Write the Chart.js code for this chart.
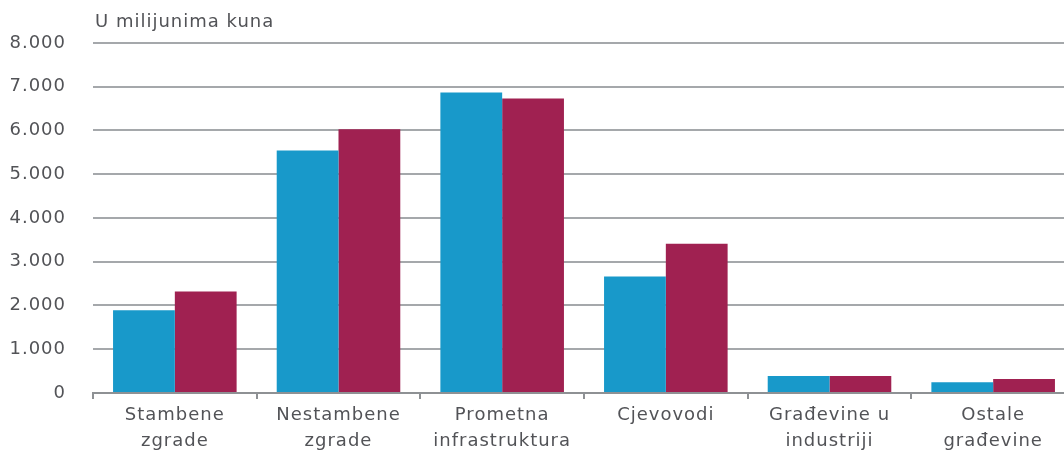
<!DOCTYPE html>
<html>
<head>
<meta charset="utf-8">
<script src="https://cdn.jsdelivr.net/npm/chart.js@4"></script>
<style>
html,body{margin:0;padding:0;background:#fff;overflow:hidden;}
#wrap{width:1064px;height:456px;position:relative;overflow:hidden;}
</style>
</head>
<body>
<div id="wrap"><canvas id="c" width="1080" height="461"></canvas></div>
<script>
const categories = [
  ["Stambene", "zgrade"],
  ["Nestambene", "zgrade"],
  ["Prometna", "infrastruktura"],
  ["Cjevovodi"],
  ["Građevine u", "industriji"],
  ["Ostale", "građevine"]
];
const seriesBlue = [1890, 5540, 6870, 2660, 385, 245];
const seriesRed = [2320, 6030, 6730, 3410, 385, 315];
const yTicks = [0, 1000, 2000, 3000, 4000, 5000, 6000, 7000, 8000];
const unitLabel = "U milijunima kuna";

const textColor = "#525357";
const fontFamily = "'DejaVu Sans', sans-serif";

const spacingPlugin = {
  id: "spacing",
  beforeDraw(chart) { chart.ctx.letterSpacing = "1px"; }
};

const unitPlugin = {
  id: "unitLabel",
  afterDraw(chart) {
    const ctx = chart.ctx;
    ctx.save();
    ctx.letterSpacing = "1px";
    ctx.fillStyle = textColor;
    ctx.font = "18px " + fontFamily;
    ctx.textAlign = "left";
    ctx.textBaseline = "middle";
    ctx.fillText(unitLabel, chart.chartArea.left + 2, 22);
    ctx.restore();
  }
};

new Chart(document.getElementById("c"), {
  type: "bar",
  data: {
    labels: categories,
    datasets: [
      { data: seriesBlue, backgroundColor: "#1899ca", borderWidth: 0,
        categoryPercentage: 0.755, barPercentage: 1.0 },
      { data: seriesRed, backgroundColor: "#a02151", borderWidth: 0,
        categoryPercentage: 0.755, barPercentage: 1.0 }
    ]
  },
  options: {
    responsive: false,
    animation: false,
    layout: { padding: { top: 43, right: 5, bottom: 3, left: 0 } },
    plugins: { legend: { display: false }, tooltip: { enabled: false } },
    scales: {
      x: {
        offset: true,
        grid: { offset: true, drawOnChartArea: false, drawTicks: true, tickLength: 6, color: "#8e9194", lineWidth: 2 },
        border: { display: true, color: "#8e9194", width: 2 },
        ticks: { color: textColor, font: { family: fontFamily, size: 18, lineHeight: 1.42 }, padding: 4, maxRotation: 0, autoSkip: false }
      },
      y: {
        min: 0, max: 8000,
        afterBuildTicks(axis) { axis.ticks = yTicks.map(v => ({ value: v })); },
        afterFit(axis) { axis.width = 93; },
        grid: { color: "#a5a8ab", lineWidth: 2, drawTicks: false },
        border: { display: false },
        ticks: {
          color: textColor, padding: 27,
          font: { family: fontFamily, size: 18 },
          callback: v => v.toLocaleString("de-DE")
        }
      }
    }
  },
  plugins: [spacingPlugin, unitPlugin]
});
</script>
</body>
</html>
